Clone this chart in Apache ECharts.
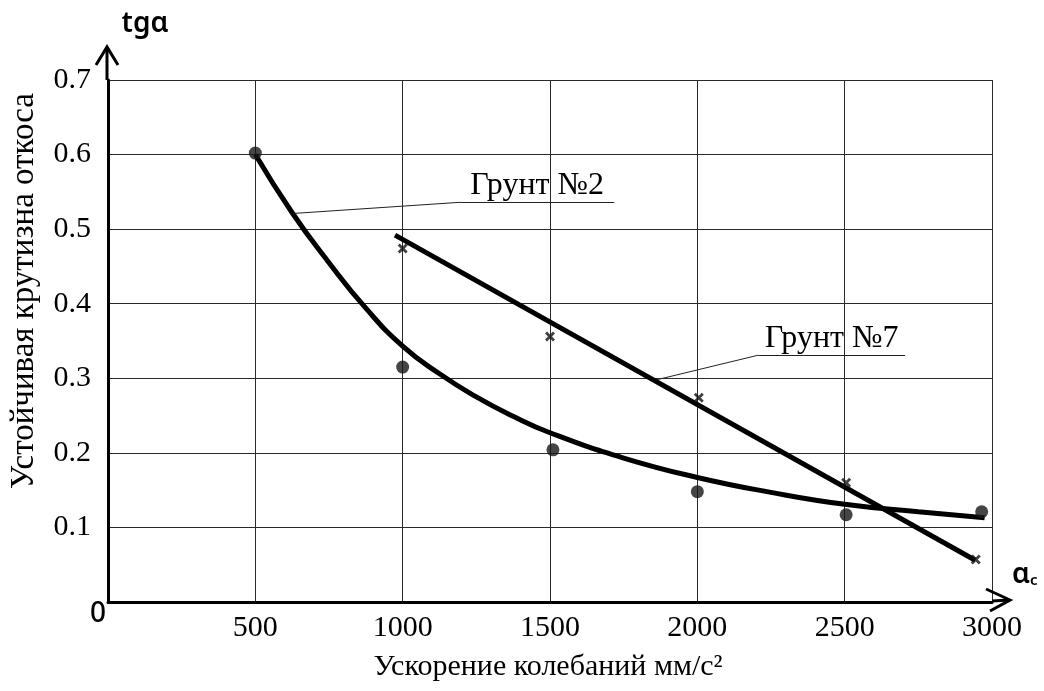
<!DOCTYPE html>
<html>
<head>
<meta charset="utf-8">
<script src="https://cdn.jsdelivr.net/npm/echarts@6.0.0/dist/echarts.min.js"></script>
<style>
  html, body { margin: 0; padding: 0; background: #fff; }
  #chart { width: 1044px; height: 691px; }
</style>
</head>
<body>
<div id="chart"></div>
<script>
// Axis ranges and ticks
const xMin = 0, xMax = 3000, xStep = 500;
const yMin = 0, yMax = 0.7, yStep = 0.1;

// Soil No.2: measured points and the fitted curve through them
const soil2PointX = [500, 1000, 1510, 2000, 2505, 2965];
const soil2PointY = [0.602, 0.315, 0.204, 0.148, 0.117, 0.121];
const soil2CurveX = [500, 625, 750, 875, 1000, 1125, 1250, 1375, 1500, 1750, 2000, 2250, 2500, 2750, 2975];
const soil2CurveY = [0.600, 0.522, 0.455, 0.394, 0.343, 0.306, 0.275, 0.249, 0.227, 0.193, 0.167, 0.147, 0.131, 0.121, 0.113];

// Soil No.7: measured points and the straight fitted line
const soil7PointX = [1000, 1500, 2005, 2505, 2945];
const soil7PointY = [0.474, 0.356, 0.274, 0.160, 0.057];
const soil7LineX = [974, 2943];
const soil7LineY = [0.492, 0.056];

// Callout leaders: [point on the curve, knee], then underline end x
const soil2Label = 'Грунт №2';
const soil2Leader = [[628, 0.521], [1195, 0.536]];
const soil2UnderlineEnd = 1718;
const soil7Label = 'Грунт №7';
const soil7Leader = [[1862, 0.298], [2207, 0.331]];
const soil7UnderlineEnd = 2705;

const zip = (xs, ys) => xs.map((x, i) => [x, ys[i]]);

const SERIF = '"Liberation Serif", "Times New Roman", serif';
const SANS = '"Noto Sans", "DejaVu Sans", sans-serif';
const CROSS = 'path://M0,2L2,0L5,3L8,0L10,2L7,5L10,8L8,10L5,7L2,10L0,8L3,5Z';

function callout(leader, underlineEnd, text) {
  const knee = leader[1];
  return {
    symbol: ['none', 'none'],
    silent: true,
    animation: false,
    lineStyle: { color: '#222', width: 1, type: 'solid' },
    label: { show: false },
    data: [
      [{ coord: leader[0] }, { coord: knee }],
      [{
        coord: knee,
        label: {
          show: true, formatter: text, position: 'insideMiddleTop', distance: 1,
          color: '#000', fontFamily: SERIF, fontSize: 32
        }
      }, { coord: [underlineEnd, knee[1]] }]
    ]
  };
}

const chart = echarts.init(document.getElementById('chart'), null, { renderer: 'canvas' });

const option = {
  backgroundColor: '#fff',
  animation: false,
  grid: { left: 108, right: 52, top: 80, bottom: 89, containLabel: false },
  xAxis: {
    type: 'value', min: xMin, max: xMax, interval: xStep,
    axisLine: { show: true, onZero: false, lineStyle: { color: '#000', width: 3 } },
    axisTick: { show: false },
    splitLine: { show: true, lineStyle: { color: '#2a2a2a', width: 1 } },
    axisLabel: {
      margin: 11, color: '#000', fontFamily: SERIF, fontSize: 30,
      formatter: v => (v === 0 ? '' : String(v))
    }
  },
  yAxis: {
    type: 'value', min: yMin, max: yMax, interval: yStep,
    axisLine: { show: true, onZero: false, lineStyle: { color: '#000', width: 3 } },
    axisTick: { show: false },
    splitLine: { show: true, lineStyle: { color: '#2a2a2a', width: 1 } },
    axisLabel: {
      margin: 17, color: '#000', fontFamily: SERIF, fontSize: 30,
      formatter: v => (v === 0 ? '' : v.toFixed(1))
    }
  },
  series: [
    {
      name: 'soil2-curve', type: 'line', smooth: 0.5, showSymbol: false, z: 3,
      lineStyle: { color: '#000', width: 5 },
      data: zip(soil2CurveX, soil2CurveY),
      markLine: callout(soil2Leader, soil2UnderlineEnd, soil2Label)
    },
    {
      name: 'soil2-points', type: 'scatter', symbol: 'circle', symbolSize: 13, z: 4,
      itemStyle: { color: '#161616' },
      data: zip(soil2PointX, soil2PointY)
    },
    {
      name: 'soil7-line', type: 'line', showSymbol: false, z: 3,
      lineStyle: { color: '#000', width: 5 },
      data: zip(soil7LineX, soil7LineY),
      markLine: callout(soil7Leader, soil7UnderlineEnd, soil7Label)
    },
    {
      name: 'soil7-points', type: 'scatter', symbol: CROSS, symbolSize: 10, z: 4,
      itemStyle: { color: '#111' },
      data: zip(soil7PointX, soil7PointY)
    }
  ]
};
chart.setOption(option);

// Axis extensions with open arrowheads, axis symbols and titles
const origin = chart.convertToPixel({ gridIndex: 0 }, [xMin, yMin]);
const topLeft = chart.convertToPixel({ gridIndex: 0 }, [xMin, yMax]);
const bottomRight = chart.convertToPixel({ gridIndex: 0 }, [xMax, yMin]);
const yTip = [origin[0] - 1, topLeft[1] - 33];
const xTip = [bottomRight[0] + 18, origin[1] - 2];
const axisStroke = { stroke: '#000', lineWidth: 3, fill: null, lineJoin: 'miter' };

chart.setOption({
  graphic: [
    { type: 'polyline', shape: { points: [[yTip[0], topLeft[1]], yTip] }, style: axisStroke },
    { type: 'polyline', shape: { points: [[yTip[0] - 11, yTip[1] + 18], yTip, [yTip[0] + 11, yTip[1] + 18]] }, style: axisStroke },
    { type: 'polyline', shape: { points: [[bottomRight[0], xTip[1] + 1], xTip] }, style: axisStroke },
    { type: 'polyline', shape: { points: [[xTip[0] - 24, xTip[1] - 11], xTip, [xTip[0] - 20, xTip[1] + 11]] }, style: axisStroke },
    {
      type: 'text', x: 145, y: 24,
      style: { text: 'tgα', font: '600 28px ' + SANS, fill: '#000', textAlign: 'center', textVerticalAlign: 'middle' }
    },
    {
      type: 'text', x: origin[0] - 10, y: origin[1] + 12,
      style: { text: '0', font: '500 28px ' + SANS, fill: '#000', textAlign: 'center', textVerticalAlign: 'middle' }
    },
    {
      type: 'text', x: 1012, y: 575,
      style: {
        text: '{a|α}{c|c}', textAlign: 'left', textVerticalAlign: 'middle',
        rich: {
          a: { font: '600 28px ' + SANS, fill: '#000' },
          c: { font: '600 15px ' + SANS, fill: '#000', padding: [12, 0, 0, 0] }
        }
      }
    },
    {
      type: 'text', x: 548, y: 667,
      style: { text: 'Ускорение колебаний мм/с²', font: '30px ' + SERIF, fill: '#000', textAlign: 'center', textVerticalAlign: 'middle' }
    },
    {
      type: 'text', x: 24, y: 291, rotation: Math.PI / 2,
      style: { text: 'Устойчивая крутизна откоса', font: '33px ' + SERIF, fill: '#000', textAlign: 'center', textVerticalAlign: 'middle' }
    }
  ]
});
</script>
</body>
</html>
